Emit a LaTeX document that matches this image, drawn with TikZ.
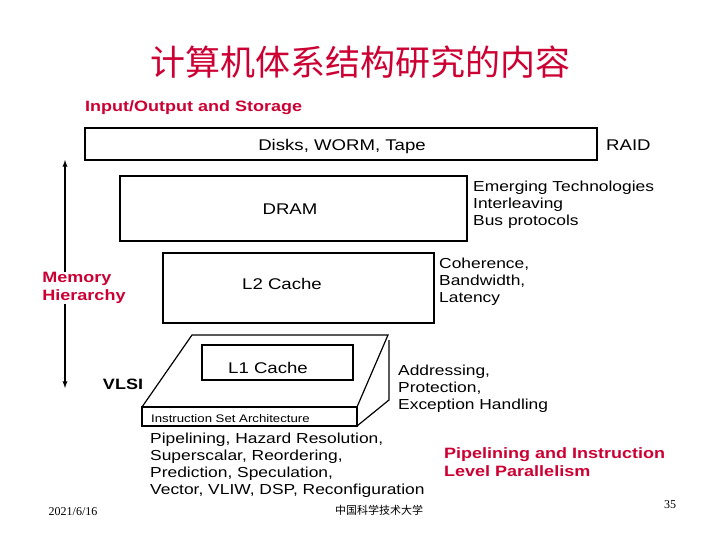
\documentclass[tikz,border=0pt]{standalone}
\usepackage{fontspec}
\setmainfont{Liberation Sans}[FakeStretch=1.2]
\newfontfamily\cjk{Noto Sans CJK SC}
\newfontfamily\serifft{Liberation Serif}
\usepackage{tikz}
\usetikzlibrary{positioning,calc}
\definecolor{titlered}{RGB}{204,0,51}

\begin{document}
\begin{tikzpicture}[x=1pt,y=-1pt,
    level/.style={draw, line width=1.6pt},
    txt/.style={font=\fontsize{15.5}{17}\selectfont, inner sep=0pt, align=left},
    redtxt/.style={txt, text=titlered, font=\fontsize{15}{18}\selectfont\bfseries}]
    \useasboundingbox (0,0) rectangle (720,540);

    % title
    \node[text=titlered, font=\cjk\fontsize{35}{37}\selectfont] (title) at (360,62) {计算机体系结构研究的内容};
    \node[redtxt, anchor=west] (io) at (85,108) {Input/Output and Storage};

    % levels of the hierarchy
    \draw[level] (85,128) rectangle (597,160);
    \node[txt] (disks) at (342,146) {Disks, WORM, Tape};
    \node[txt, anchor=west] (raid) at (606,145) {RAID};

    \draw[level] (120,176) rectangle (467,241);
    \node[txt] (dram) at (290,209) {DRAM};
    \node[txt, anchor=west, font=\fontsize{14.5}{17}\selectfont] (emerg) at (473,205) {Emerging Technologies\\Interleaving\\Bus protocols};

    \draw[level] (163,253) rectangle (434,323);
    \node[txt] (l2) at (282,284) {L2 Cache};
    \node[txt, anchor=west, font=\fontsize{14.5}{17}\selectfont] (coh) at (439,282) {Coherence,\\Bandwidth,\\Latency};

    % ISA slab
    \draw[line width=1.2pt] (142,407) -- (192,335) -- (388,335) -- (357,407);
    \draw[line width=1.2pt] (142,407) rectangle (357,426);
    \draw[line width=1.2pt] (357,426) -- (389,400) -- (389,340);
    \draw[level] (202,345) rectangle (353,380);
    \node[txt] (l1) at (268,368) {L1 Cache};
    \node[anchor=west, inner sep=0pt, font=\fontsize{11}{12}\selectfont] (isa) at (151,419) {Instruction Set Architecture};
    \node[txt, anchor=west, font=\fontsize{14.5}{17}\selectfont] (addr) at (398,389) {Addressing,\\Protection,\\Exception Handling};

    % memory hierarchy arrow
    \node[redtxt] (mem) at (84,288) {Memory\\Hierarchy};
    \coordinate (top) at (65,160);
    \coordinate (bot) at (65,388);
    \draw[line width=1.3pt, -latex] (mem.north -| top) -- (top);
    \draw[line width=1.3pt, -latex] (mem.south -| bot) -- (bot);
    \node[txt, font=\fontsize{15}{17}\selectfont\bfseries] (vlsi) at (123,384) {VLSI};

    % pipelining
    \node[txt, anchor=west, font=\fontsize{14.5}{17}\selectfont] (pipe) at (150,465) {Pipelining, Hazard Resolution,\\Superscalar, Reordering,\\Prediction, Speculation,\\Vector, VLIW, DSP, Reconfiguration};
    \node[redtxt, anchor=west] (ilp) at (444,462) {Pipelining and Instruction\\Level Parallelism};

    % footer
    \node[font=\serifft\fontsize{12}{14}\selectfont] (date) at (73,512) {2021/6/16};
    \node[font=\cjk\fontsize{11}{13}\selectfont] (ustc) at (379,510) {中国科学技术大学};
    \node[font=\serifft\fontsize{12}{14}\selectfont] (page) at (670,505) {35};
\end{tikzpicture}
\end{document}
